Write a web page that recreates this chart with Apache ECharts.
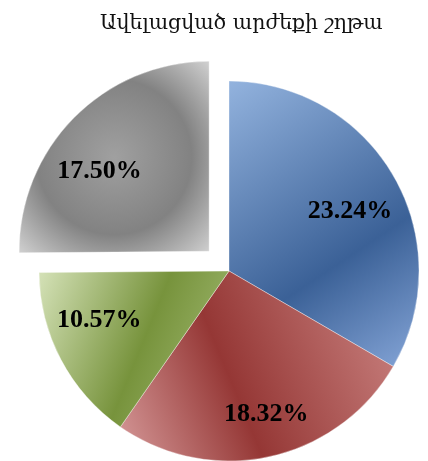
<!DOCTYPE html>
<html>
<head>
<meta charset="utf-8">
<script src="https://cdn.jsdelivr.net/npm/echarts@6/dist/echarts.min.js"></script>
<style>
  html, body { margin: 0; padding: 0; background: #fff; }
  #chart { width: 428px; height: 461px; }
</style>
</head>
<body>
<div id="chart"></div>
<script>
// Value-added chain shares (percent)
const chartTitle = 'Ավելացված արժեքի շղթա';
const sliceNames = ['A', 'B', 'C', 'D'];
const sliceValues = [23.24, 18.32, 10.57, 17.50];

// Per-slice gradient fills
const fills = [
  { type: 'linear', x: 0, y: 0, x2: 1, y2: 1, colorStops: [
    { offset: 0, color: '#93b3de' }, { offset: 0.62, color: '#3b6197' }, { offset: 1, color: '#86a6d8' } ] },
  { type: 'linear', x: 0, y: 1, x2: 1, y2: 0.4, colorStops: [
    { offset: 0, color: '#d69a9a' }, { offset: 0.45, color: '#953735' }, { offset: 1, color: '#c47a78' } ] },
  { type: 'linear', x: 0, y: 0, x2: 1, y2: 0.5, colorStops: [
    { offset: 0, color: '#d5e2b8' }, { offset: 0.6, color: '#77933c' }, { offset: 1, color: '#9bb46a' } ] },
  { type: 'radial', x: 0.5, y: 0.5, r: 0.74, colorStops: [
    { offset: 0, color: '#a0a0a0' }, { offset: 0.55, color: '#828282' }, { offset: 1, color: '#d9d9d9' } ] }
];

// Fine placement of the percentage labels inside each slice
const labelShift = [[36, -11], [16, 48], [-43, 4], [-40, -11]];

const chart = echarts.init(document.getElementById('chart'), null, { renderer: 'canvas' });

chart.setOption({
  animation: false,
  backgroundColor: '#ffffff',
  title: {
    text: chartTitle,
    left: 95,
    top: 8,
    textStyle: {
      fontFamily: 'DejaVu Serif',
      fontWeight: 'normal',
      fontSize: 20.5,
      color: '#111'
    }
  },
  series: [{
    type: 'pie',
    center: [229, 271],
    radius: [0, 190],
    startAngle: 90,
    clockwise: true,
    selectedMode: 'multiple',
    selectedOffset: 28,
    avoidLabelOverlap: false,
    emphasis: { disabled: true },
    label: {
      show: true,
      position: 'inside',
      fontFamily: 'Liberation Serif',
      fontWeight: 'bold',
      fontSize: 26,
      color: '#000',
      formatter: p => p.value.toFixed(2) + '%'
    },
    labelLine: { show: false },
    itemStyle: { borderColor: 'rgba(255,255,255,0.6)', borderWidth: 0.6 },
    data: sliceValues.map((v, i) => ({
      name: sliceNames[i],
      value: v,
      selected: i === 3,
      itemStyle: { color: fills[i] },
      label: { offset: labelShift[i] },
      select: { label: { offset: labelShift[i] }, itemStyle: { color: fills[i] } }
    }))
  }]
});
</script>
</body>
</html>
